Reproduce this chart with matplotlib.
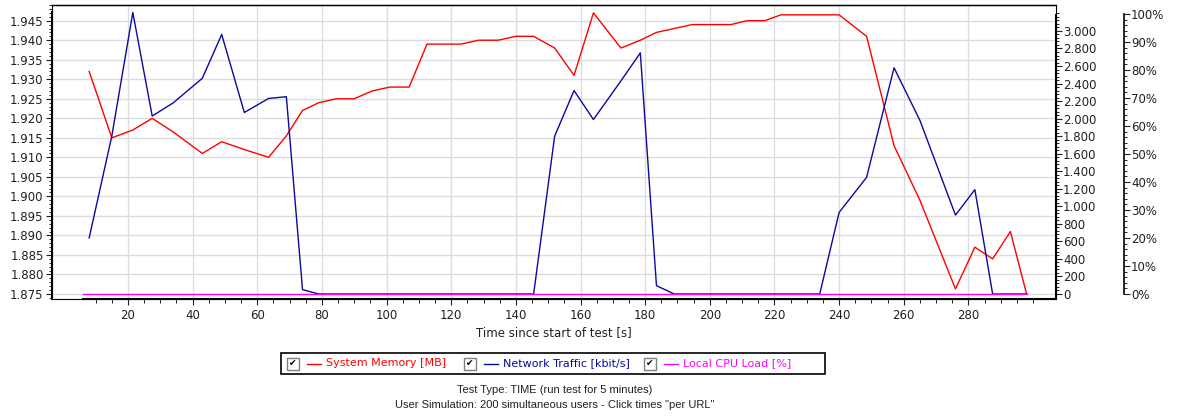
import matplotlib
matplotlib.use("Agg")
import matplotlib.pyplot as plt
from matplotlib.patches import Rectangle
from matplotlib.lines import Line2D
from matplotlib.ticker import MultipleLocator, FixedLocator, FuncFormatter

# sample times [s]
times = [8, 15, 21.5, 27.5, 34, 43, 49, 56, 63.5, 69,
         74, 79, 84.5, 90, 95.5, 101, 107, 112.5, 118, 123,
         128.5, 134.5, 140, 145.5, 152, 158, 164, 172.5, 178.5, 183.5,
         189, 194.5, 200, 206.5, 211.5, 217, 222, 228, 234, 240,
         248.5, 257, 265, 276, 282, 287.5, 293, 298]

# System Memory [MB]
memory = [1.932, 1.915, 1.917, 1.920, 1.9165, 1.911, 1.914, 1.912, 1.910, 1.9155,
          1.922, 1.924, 1.925, 1.925, 1.927, 1.928, 1.928, 1.939, 1.939, 1.939,
          1.940, 1.940, 1.941, 1.941, 1.938, 1.931, 1.947, 1.938, 1.940, 1.942,
          1.943, 1.944, 1.944, 1.944, 1.945, 1.945, 1.9465, 1.9465, 1.9465, 1.9465,
          1.941, 1.913, 1.899, 1.8763, 1.887, 1.884, 1.891, 1.875]

# Network Traffic [kbit/s]
network = [640, 1800, 3210, 2030, 2180, 2460, 2960, 2070, 2230, 2250,
           50, 0, 0, 0, 0, 0, 0, 0, 0, 0,
           0, 0, 0, 0, 1800, 2320, 1990, 2430, 2750, 95,
           0, 0, 0, 0, 0, 0, 0, 0, 0, 930,
           1330, 2580, 1980, 900, 1190, 0, 0, 0]

# Local CPU Load [%]
cpu_times = [6, 298]
cpu_load = [0, 0]

labels = ["System Memory [MB]", "Network Traffic [kbit/s]", "Local CPU Load [%]"]
colors = ["#ff0000", "#0a0a9c", "#ff00ff"]

W, H = 1184, 416
fig = plt.figure(figsize=(W / 100, H / 100), dpi=100)
ax = fig.add_axes([52 / W, 1 - 299 / H, (1056 - 52) / W, (299 - 5) / H])
ax_net = ax.twinx()
ax_cpu = ax.twinx()

ax.plot(times, memory, color=colors[0], lw=1.0)
ax_net.plot(times, network, color=colors[1], lw=1.0)
ax_cpu.plot(cpu_times, cpu_load, color=colors[2], lw=1.0)

ax.set_xlim(-3.5, 307.1)
ax.set_ylim(1.87372, 1.94902)
ax_net.set_ylim(-57, 3296)
ax_cpu.set_ylim(-1.79, 103.2)

# grid
ax.set_axisbelow(True)
ax.grid(True, which="major", color="#dcdcdc", lw=1)

# x axis
ax.xaxis.set_major_locator(FixedLocator(list(range(20, 281, 20))))
ax.xaxis.set_minor_locator(FixedLocator(list(range(10, 301, 5))))
ax.tick_params(axis="x", which="major", direction="out", length=4, labelsize=8.5, pad=3, colors="#202020")
ax.tick_params(axis="x", which="minor", direction="out", length=3)
ax.set_xlabel("Time since start of test [s]", fontsize=8.5, labelpad=3, color="#202020")

# left axis (memory)
ax.yaxis.set_major_locator(MultipleLocator(0.005))
ax.yaxis.set_minor_locator(MultipleLocator(0.001))
ax.yaxis.set_major_formatter(FuncFormatter(lambda v, p: f"{v:.3f}"))
ax.tick_params(axis="y", which="major", direction="out", length=4, labelsize=8.5, pad=2, colors="#202020")
ax.tick_params(axis="y", which="minor", direction="out", length=2)

# right axis (network)
ax_net.yaxis.set_major_locator(FixedLocator(list(range(0, 3001, 200))))
ax_net.yaxis.set_minor_locator(FixedLocator(list(range(0, 3201, 40))))
ax_net.yaxis.set_major_formatter(FuncFormatter(lambda v, p: f"{int(round(v)):,}".replace(",", ".")))
ax_net.tick_params(axis="y", which="major", direction="out", length=4, labelsize=8.5, pad=1, colors="#202020")
ax_net.tick_params(axis="y", which="minor", direction="out", length=2)

# outer right axis (cpu %), 68 px to the right of the plot
ax_cpu.spines["right"].set_position(("outward", 68 * 72 / 100))
ax_cpu.yaxis.set_major_locator(FixedLocator(list(range(0, 101, 10))))
ax_cpu.yaxis.set_minor_locator(FixedLocator(list(range(0, 101, 2))))
ax_cpu.yaxis.set_major_formatter(FuncFormatter(lambda v, p: f"{int(round(v))}%"))
ax_cpu.tick_params(axis="y", which="major", direction="out", length=4, labelsize=8.5, pad=1, colors="#202020")
ax_cpu.tick_params(axis="y", which="minor", direction="out", length=2)

# spines
ax.spines["top"].set_linewidth(1.0)
ax.spines["right"].set_visible(False)
ax.spines["left"].set_linewidth(1.5)
ax.spines["left"].set_bounds(1.87372, 1.9473)
ax.spines["bottom"].set_linewidth(1.5)
ax.spines["bottom"].set_bounds(6, 307.1)
ax.patch.set_edgecolor("black")
ax.patch.set_linewidth(0.8)
for s in ["left", "top", "bottom"]:
    ax_net.spines[s].set_visible(False)
    ax_cpu.spines[s].set_visible(False)
ax_net.spines["right"].set_linewidth(1.5)
ax_net.spines["right"].set_bounds(-57, 3180)
ax_cpu.spines["right"].set_linewidth(1.2)
ax_cpu.spines["right"].set_bounds(0, 100)


def fx(x):
    return x / W


def fy(y):
    return 1 - y / H


# legend box with check boxes
fig.add_artist(Rectangle((fx(281), fy(374)), (825 - 281) / W, 21 / H, transform=fig.transFigure,
                         fill=False, edgecolor="black", lw=1.2))
box_x = [287, 464, 644]
yc = 363.5
for x0, lab, col in zip(box_x, labels, colors):
    fig.add_artist(Rectangle((fx(x0), fy(yc + 6)), 12 / W, 12 / H, transform=fig.transFigure,
                             facecolor="white", edgecolor="#808080", lw=1))
    fig.text(fx(x0 + 6), fy(yc), "\u2714", fontsize=6.5, ha="center", va="center", color="black")
    fig.add_artist(Line2D([fx(x0 + 20), fx(x0 + 34)], [fy(yc), fy(yc)], transform=fig.transFigure,
                          color=col, lw=1.0))
    fig.text(fx(x0 + 39), fy(yc), lab, fontsize=8, ha="left", va="center", color=col)

fig.text(fx(555), fy(390), "Test Type: TIME (run test for 5 minutes)",
         fontsize=8, family="Liberation Sans", ha="center", va="center", color="#202020")
fig.text(fx(555), fy(405), 'User Simulation: 200 simultaneous users - Click times "per URL"',
         fontsize=8, family="Liberation Sans", ha="center", va="center", color="#202020")

fig.savefig("out.png", dpi=100)
